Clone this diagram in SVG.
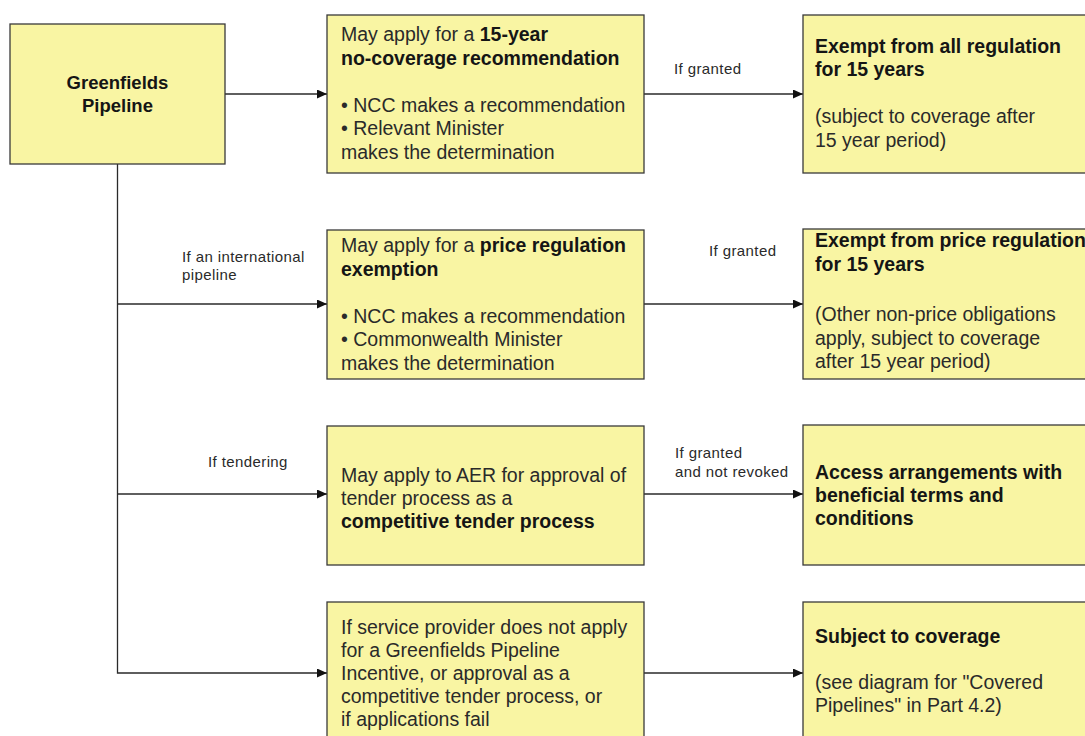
<svg xmlns="http://www.w3.org/2000/svg" width="1085" height="736" viewBox="0 0 1085 736">
<defs>
<style>
.box{fill:#F9F5A3;stroke:#3a3a3a;stroke-width:1.3}
.t{font-family:"Liberation Sans",Arial,sans-serif;font-size:19.5px;fill:#2a2a2a}
.b{font-weight:bold;fill:#151515}
.lbl{font-family:"Liberation Sans",Arial,sans-serif;font-size:15px;letter-spacing:0.4px;fill:#2a2a2a}
.c{fill:none;stroke:#2a2a2a;stroke-width:1.3}
</style>
<marker id="ah" markerUnits="userSpaceOnUse" markerWidth="10" markerHeight="9" refX="10" refY="4.5" orient="auto">
<path d="M0,0 L10,4.5 L0,9 z" fill="#111"/>
</marker>
</defs>
<rect width="1085" height="736" fill="#fff"/>

<g id="connectors">
<path class="c" d="M225,94 H327" marker-end="url(#ah)"/>
<path class="c" d="M117.5,164 V673 H327" marker-end="url(#ah)"/>
<path class="c" d="M117.5,304 H327" marker-end="url(#ah)"/>
<path class="c" d="M117.5,494 H327" marker-end="url(#ah)"/>
<path class="c" d="M644,94 H803" marker-end="url(#ah)"/>
<path class="c" d="M644,304 H803" marker-end="url(#ah)"/>
<path class="c" d="M644,494 H803" marker-end="url(#ah)"/>
<path class="c" d="M644,673 H803" marker-end="url(#ah)"/>
<text class="lbl" x="674" y="74">If granted</text>
<text class="lbl" x="182" y="262">If an international</text>
<text class="lbl" x="182" y="280">pipeline</text>
<text class="lbl" x="709" y="256">If granted</text>
<text class="lbl" x="208" y="467">If tendering</text>
<text class="lbl" x="675" y="458">If granted</text>
<text class="lbl" x="675" y="477">and not revoked</text>
</g>

<g id="greenfields">
<rect class="box" x="10" y="24" width="215" height="140"/>
<text class="t b" x="117.5" y="89" text-anchor="middle" style="font-size:18.5px">Greenfields</text>
<text class="t b" x="117.5" y="112" text-anchor="middle" style="font-size:18.5px">Pipeline</text>
</g>

<g id="no-coverage">
<rect class="box" x="327" y="15" width="317" height="158"/>
<text class="t" x="341" y="41">May apply for a <tspan class="b">15-year</tspan></text>
<text class="t b" x="341" y="64.5">no-coverage recommendation</text>
<text class="t" x="341" y="111.5">• NCC makes a recommendation</text>
<text class="t" x="341" y="135">• Relevant Minister</text>
<text class="t" x="341" y="158.5">makes the determination</text>
</g>

<g id="exempt-all">
<rect class="box" x="803" y="15" width="300" height="158"/>
<text class="t b" x="815" y="53">Exempt from all regulation</text>
<text class="t b" x="815" y="76">for 15 years</text>
<text class="t" x="815" y="123">(subject to coverage after</text>
<text class="t" x="815" y="146.5">15 year period)</text>
</g>

<g id="price-exemption">
<rect class="box" x="327" y="230" width="317" height="149"/>
<text class="t" x="341" y="252">May apply for a <tspan class="b">price regulation</tspan></text>
<text class="t b" x="341" y="275.5">exemption</text>
<text class="t" x="341" y="322.5">• NCC makes a recommendation</text>
<text class="t" x="341" y="346">• Commonwealth Minister</text>
<text class="t" x="341" y="369.5">makes the determination</text>
</g>

<g id="exempt-price">
<rect class="box" x="803" y="229" width="300" height="150"/>
<text class="t b" x="815" y="247">Exempt from price regulation</text>
<text class="t b" x="815" y="271">for 15 years</text>
<text class="t" x="815" y="321">(Other non-price obligations</text>
<text class="t" x="815" y="344.5">apply, subject to coverage</text>
<text class="t" x="815" y="368">after 15 year period)</text>
</g>

<g id="tender">
<rect class="box" x="327" y="426" width="317" height="139"/>
<text class="t" x="341" y="482">May apply to AER for approval of</text>
<text class="t" x="341" y="505">tender process as a</text>
<text class="t b" x="341" y="528">competitive tender process</text>
</g>

<g id="access">
<rect class="box" x="803" y="425" width="300" height="140"/>
<text class="t b" x="815" y="478.5">Access arrangements with</text>
<text class="t b" x="815" y="501.5">beneficial terms and</text>
<text class="t b" x="815" y="524.5">conditions</text>
</g>

<g id="no-apply">
<rect class="box" x="327" y="602" width="317" height="150"/>
<text class="t" x="341" y="634">If service provider does not apply</text>
<text class="t" x="341" y="657">for a Greenfields Pipeline</text>
<text class="t" x="341" y="680">Incentive, or approval as a</text>
<text class="t" x="341" y="703">competitive tender process, or</text>
<text class="t" x="341" y="726">if applications fail</text>
</g>

<g id="coverage">
<rect class="box" x="803" y="602" width="300" height="150"/>
<text class="t b" x="815" y="643">Subject to coverage</text>
<text class="t" x="815" y="688.5">(see diagram for "Covered</text>
<text class="t" x="815" y="712">Pipelines" in Part 4.2)</text>
</g>
</svg>
